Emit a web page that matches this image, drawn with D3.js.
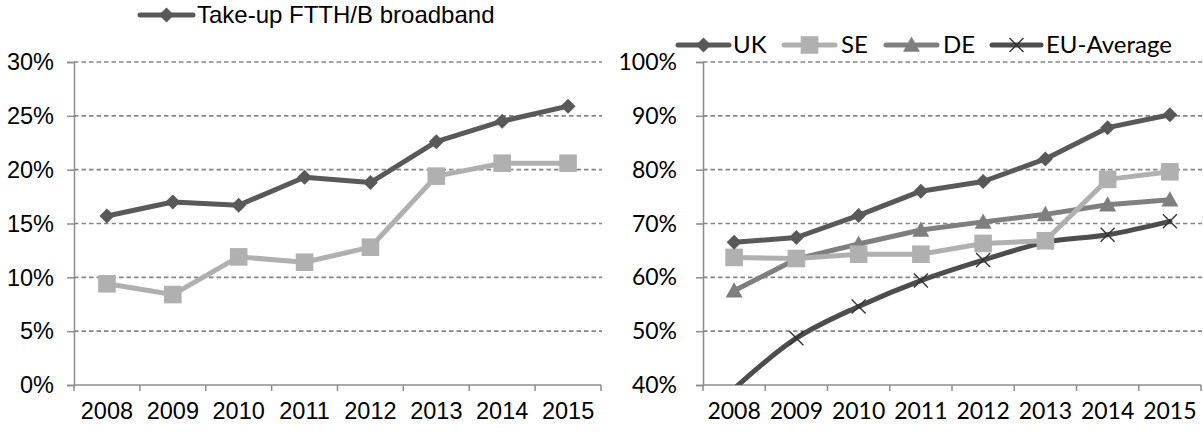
<!DOCTYPE html>
<html><head><meta charset="utf-8">
<script src="https://cdn.jsdelivr.net/npm/d3@7"></script>
<style>
html,body{margin:0;padding:0;background:#fff;}
svg{display:block;}
</style>
</head><body>
<svg id="chart" width="1203" height="432"></svg>
<script>
const years = ["2008","2009","2010","2011","2012","2013","2014","2015"];
// Left chart
const leftTicks = [0,0.05,0.10,0.15,0.20,0.25,0.30];
const takeUp = [15.7,17.0,16.7,19.3,18.8,22.6,24.5,25.9];
const takeUpLight = [9.4,8.4,11.9,11.4,12.8,19.4,20.6,20.6];
// Right chart
const rightTicks = [0.40,0.50,0.60,0.70,0.80,0.90,1.00];
const uk = [66.5,67.4,71.5,76.0,77.8,82.0,87.8,90.2];
const se = [63.7,63.5,64.3,64.3,66.3,66.8,78.2,79.6];
const de = [57.5,63.4,66.2,68.8,70.3,71.7,73.5,74.4];
const eu = [39.3,48.7,54.6,59.4,63.2,66.5,67.9,70.4];

const svg = d3.select("#chart");
const C = {dark:"#595959", light:"#b0b0b0", mid:"#7f7f7f", eu:"#4d4d4d", grid:"#858585", axis:"#8c8c8c"};

function markerPath(type, s){
  if(type==="diamond") return `M0,${-s}L${s},0L0,${s}L${-s},0Z`;
  if(type==="square") return `M${-s},${-s}H${s}V${s}H${-s}Z`;
  if(type==="triangle") return `M0,${-s}L${s},${s*0.8}L${-s},${s*0.8}Z`;
  if(type==="x") return `M${-s},${-s}L${s},${s}M${s},${-s}L${-s},${s}`;
}

function drawMarker(g, type, x, y, color){
  const sizes = {diamond:7.5, square:8.8, triangle:8.5, x:7};
  const p = g.append("path").attr("transform",`translate(${x},${y})`).attr("d", markerPath(type, sizes[type]));
  if(type==="x") p.attr("fill","none").attr("stroke",color).attr("stroke-width",1.4);
  else p.attr("fill",color);
}

function panel(opts){
  const {x0,x1,y0,y1,domain,ticks,font,fsize,labelX,series,id} = opts;
  const x = d3.scaleBand().domain(years).range([x0,x1]).padding(0);
  const y = d3.scaleLinear().domain(domain).range([y1,y0]);
  const g = svg.append("g");
  // gridlines
  g.selectAll(".grid").data(ticks.filter(t=>t!==domain[0])).enter().append("line")
    .attr("x1",x0).attr("x2",x1+1).attr("y1",d=>y(d)).attr("y2",d=>y(d))
    .attr("stroke",C.grid).attr("stroke-width",1.6).attr("stroke-dasharray","4.5,3");
  // y axis via d3 axis (outward ticks)
  const ya = d3.axisLeft(y).tickValues(ticks).tickSize(7).tickFormat(d3.format(".0%"));
  const yg = g.append("g").attr("transform",`translate(${x0},0)`).call(ya);
  yg.select(".domain").attr("stroke",C.axis).attr("stroke-width",1.5);
  yg.selectAll(".tick line").attr("stroke",C.axis).attr("stroke-width",1.5);
  yg.selectAll(".tick text").remove();
  g.selectAll(".ylab").data(ticks).enter().append("text")
    .attr("x",labelX).attr("y",d=>y(d)).attr("dy","0.35em").attr("text-anchor","end")
    .attr("font-family",font).attr("font-size",fsize).attr("fill","#000").text(d3.format(".0%"));
  // x axis
  const xa = d3.axisBottom(x).tickSize(0).tickFormat(d=>d);
  const xg = g.append("g").attr("transform",`translate(0,${y1})`).call(xa);
  xg.select(".domain").remove();
  xg.selectAll(".tick text").attr("font-family",font).attr("font-size",fsize).attr("fill","#000").attr("y",34).attr("dy","0");
  g.append("line").attr("x1",x0).attr("x2",x1).attr("y1",y1).attr("y2",y1).attr("stroke",C.axis).attr("stroke-width",1.5);
  const bounds = years.map(d=>x(d)).concat([x1]);
  g.selectAll(".xt").data(bounds).enter().append("line")
    .attr("x1",d=>d).attr("x2",d=>d).attr("y1",y1).attr("y2",y1+6).attr("stroke",C.axis).attr("stroke-width",1.5);
  // clip
  svg.append("clipPath").attr("id",id).append("rect").attr("x",x0-20).attr("y",0).attr("width",x1-x0+40).attr("height",y1);
  const pg = g.append("g").attr("clip-path",`url(#${id})`);
  const cx = d=>x(d)+x.bandwidth()/2;
  series.forEach(s=>{
    const line = d3.line().x((d,i)=>cx(years[i])).y(d=>y(d/100)).curve(s.curve||d3.curveLinear);
    pg.append("path").datum(s.values).attr("d",line).attr("fill","none").attr("stroke",s.color).attr("stroke-width",5).attr("stroke-linejoin","round").attr("stroke-linecap","round");
  });
  series.forEach(s=>{
    s.values.forEach((v,i)=>{ if(v/100 >= domain[0]) drawMarker(pg, s.marker, cx(years[i]), y(v/100), s.mcolor||s.color); });
  });
}

const lf = "Liberation Sans, Arial, sans-serif";
const rf = "Lato, sans-serif";
panel({x0:74,x1:601,y0:62,y1:385,domain:[0,0.30],ticks:leftTicks,font:lf,fsize:23.5,labelX:54,id:"clipL",
  series:[
    {values:takeUpLight,color:C.light,marker:"square"},
    {values:takeUp,color:C.dark,marker:"diamond"}
  ]});
panel({x0:703,x1:1201,y0:62,y1:385,domain:[0.40,1.00],ticks:rightTicks,font:rf,fsize:23,labelX:677,id:"clipR",
  series:[
    {values:eu,color:C.eu,marker:"x",mcolor:"#333",curve:d3.curveCatmullRom},
    {values:de,color:C.mid,marker:"triangle"},
    {values:se,color:C.light,marker:"square"},
    {values:uk,color:C.dark,marker:"diamond"}
  ]});

// legends
function legendItem(x1, x2, y, color, marker, label, tx, font, fsize, mcolor){
  const g = svg.append("g");
  g.append("line").attr("x1",x1).attr("x2",x2).attr("y1",y).attr("y2",y).attr("stroke",color).attr("stroke-width",5).attr("stroke-linecap","round");
  drawMarker(g, marker, (x1+x2)/2, y, mcolor||color);
  g.append("text").attr("x",tx).attr("y",y).attr("dy","0.35em").attr("font-family",font).attr("font-size",fsize).attr("fill","#000").text(label);
}
legendItem(140,193,15,C.dark,"diamond","Take-up FTTH/B broadband",197,lf,24);
legendItem(678,729,45,C.dark,"diamond","UK",733,rf,24);
legendItem(784,835,45,C.light,"square","SE",841,rf,24);
legendItem(886,937,45,C.mid,"triangle","DE",943,rf,24);
legendItem(992,1041,45,C.eu,"x","EU-Average",1046,rf,24,"#333");
</script>
</body></html>
